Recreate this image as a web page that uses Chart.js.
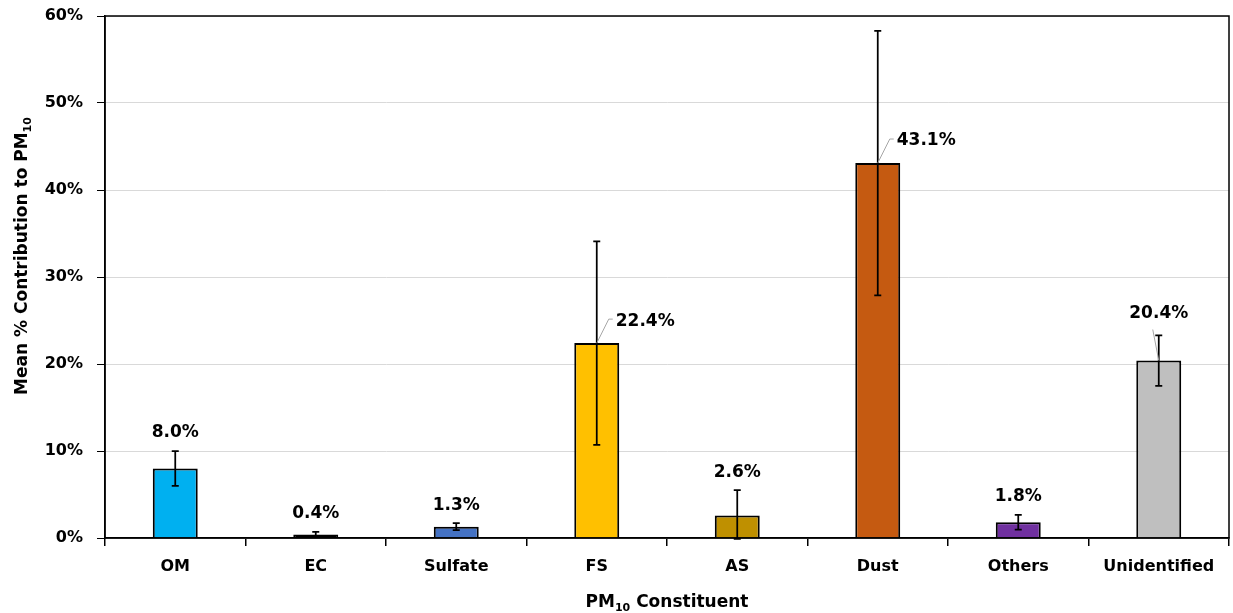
<!DOCTYPE html>
<html>
<head>
<meta charset="utf-8">
<script src="https://cdn.jsdelivr.net/npm/chart.js@4/dist/chart.umd.min.js"></script>
<style>
  html, body { margin: 0; padding: 0; background: #fff; }
  #chart { display: block; }
</style>
</head>
<body>
<canvas id="chart" width="1233" height="613"></canvas>
<script>
// data
const categories = ['OM', 'EC', 'Sulfate', 'FS', 'AS', 'Dust', 'Others', 'Unidentified'];
const meanPct = [8.0, 0.4, 1.3, 22.4, 2.6, 43.1, 1.8, 20.4];
const errPct = [2.0, 0.3, 0.4, 11.7, 2.9, 15.2, 0.85, 2.9];
const yTicks = [0, 10, 20, 30, 40, 50, 60];

// bar colours
const barColors = ['#00B0F0', '#000000', '#4472C4', '#FFC000', '#BF9000', '#C55A11', '#7030A0', '#BFBFBF'];
// where each value label goes
const labelSide = ['above', 'above', 'above', 'right', 'above', 'right', 'above', 'leader'];

const FONT = '"DejaVu Sans", Verdana, sans-serif';

// error bars + value labels
const errorBarPlugin = {
  id: 'errorBars',
  afterDatasetsDraw(chart) {
    const ctx = chart.ctx;
    const y = chart.scales.y;
    const meta = chart.getDatasetMeta(0);
    ctx.save();
    meta.data.forEach((bar, i) => {
      const x = bar.x;
      const yTop = y.getPixelForValue(meanPct[i] + errPct[i]);
      const yBot = y.getPixelForValue(Math.max(meanPct[i] - errPct[i], -0.1));
      ctx.strokeStyle = '#000';
      ctx.lineWidth = 1.75;
      ctx.beginPath();
      ctx.moveTo(x, yTop); ctx.lineTo(x, yBot);
      ctx.moveTo(x - 3.5, yTop); ctx.lineTo(x + 3.5, yTop);
      ctx.moveTo(x - 3.5, yBot); ctx.lineTo(x + 3.5, yBot);
      ctx.stroke();

      const txt = meanPct[i].toFixed(1) + '%';
      ctx.font = 'bold 17px ' + FONT;
      ctx.fillStyle = '#000';
      ctx.textBaseline = 'middle';
      if (labelSide[i] === 'above') {
        ctx.textAlign = 'center';
        ctx.fillText(txt, x, yTop - 18);
      } else if (labelSide[i] === 'right') {
        const by = bar.y;
        ctx.strokeStyle = '#a6a6a6';
        ctx.lineWidth = 1;
        ctx.beginPath();
        ctx.moveTo(x, by);
        ctx.lineTo(x + 12, by - 24);
        ctx.lineTo(x + 16, by - 24);
        ctx.stroke();
        ctx.textAlign = 'left';
        ctx.fillText(txt, x + 19, by - 22);
      } else {
        const by = bar.y;
        ctx.strokeStyle = '#a6a6a6';
        ctx.lineWidth = 1;
        ctx.beginPath();
        ctx.moveTo(x, by);
        ctx.lineTo(x - 6, by - 31);
        ctx.stroke();
        ctx.textAlign = 'center';
        ctx.fillText(txt, x, yTop - 22);
      }
    });
    ctx.restore();
  },
  afterDraw(chart) {
    const ctx = chart.ctx;
    const a = chart.chartArea;
    ctx.save();
    // box around plot area
    ctx.strokeStyle = '#000';
    ctx.lineWidth = 1.5;
    ctx.strokeRect(a.left, a.top, a.right - a.left, a.bottom - a.top);

    // axis titles with subscript
    const drawSub = (parts, cx, cy) => {
      let w = 0;
      parts.forEach(p => {
        ctx.font = p.sub ? 'bold 11px ' + FONT : 'bold 17px ' + FONT;
        w += ctx.measureText(p.t).width;
      });
      let x = cx - w / 2;
      ctx.textAlign = 'left';
      ctx.textBaseline = 'alphabetic';
      parts.forEach(p => {
        ctx.font = p.sub ? 'bold 11px ' + FONT : 'bold 17px ' + FONT;
        ctx.fillText(p.t, x, cy + (p.sub ? 4 : 0));
        x += ctx.measureText(p.t).width;
      });
    };
    ctx.fillStyle = '#000';
    drawSub([{ t: 'PM' }, { t: '10', sub: true }, { t: ' Constituent' }], (a.left + a.right) / 2, 607);

    ctx.translate(27, 256);
    ctx.rotate(-Math.PI / 2);
    drawSub([{ t: 'Mean % Contribution to PM' }, { t: '10', sub: true }], 0, 0);
    ctx.restore();
  }
};

new Chart(document.getElementById('chart').getContext('2d'), {
  type: 'bar',
  data: {
    labels: categories,
    datasets: [{
      data: meanPct,
      backgroundColor: barColors,
      borderColor: '#000',
      borderWidth: 2,
      barPercentage: 0.32,
      categoryPercentage: 1
    }]
  },
  options: {
    responsive: false,
    animation: false,
    devicePixelRatio: 1,
    layout: { padding: { top: 16, right: 4, left: 0, bottom: 0 } },
    plugins: {
      legend: { display: false },
      tooltip: { enabled: false }
    },
    scales: {
      x: {
        afterFit: s => { s.height = 75; s.paddingLeft = 0; s.paddingRight = 0; },
        grid: {
          offset: true,
          drawOnChartArea: false,
          drawTicks: true,
          tickLength: 8,
          color: '#000',
          lineWidth: 1.5
        },
        border: { color: '#000', width: 1.5 },
        ticks: {
          color: '#000',
          padding: 11,
          font: { family: FONT, size: 16, weight: 'bold' }
        }
      },
      y: {
        min: 0,
        max: 60,
        afterFit: s => { s.width = 105; s.paddingTop = 0; s.paddingBottom = 0; },
        afterBuildTicks: s => { s.ticks = yTicks.map(v => ({ value: v })); },
        grid: {
          color: '#d9d9d9',
          lineWidth: 1,
          tickColor: '#000',
          tickLength: 8
        },
        border: { color: '#000', width: 1.5 },
        ticks: {
          color: '#000',
          padding: 14,
          font: { family: FONT, size: 16, weight: 'bold' },
          callback: v => v + '%'
        }
      }
    }
  },
  plugins: [errorBarPlugin]
});
</script>
</body>
</html>
